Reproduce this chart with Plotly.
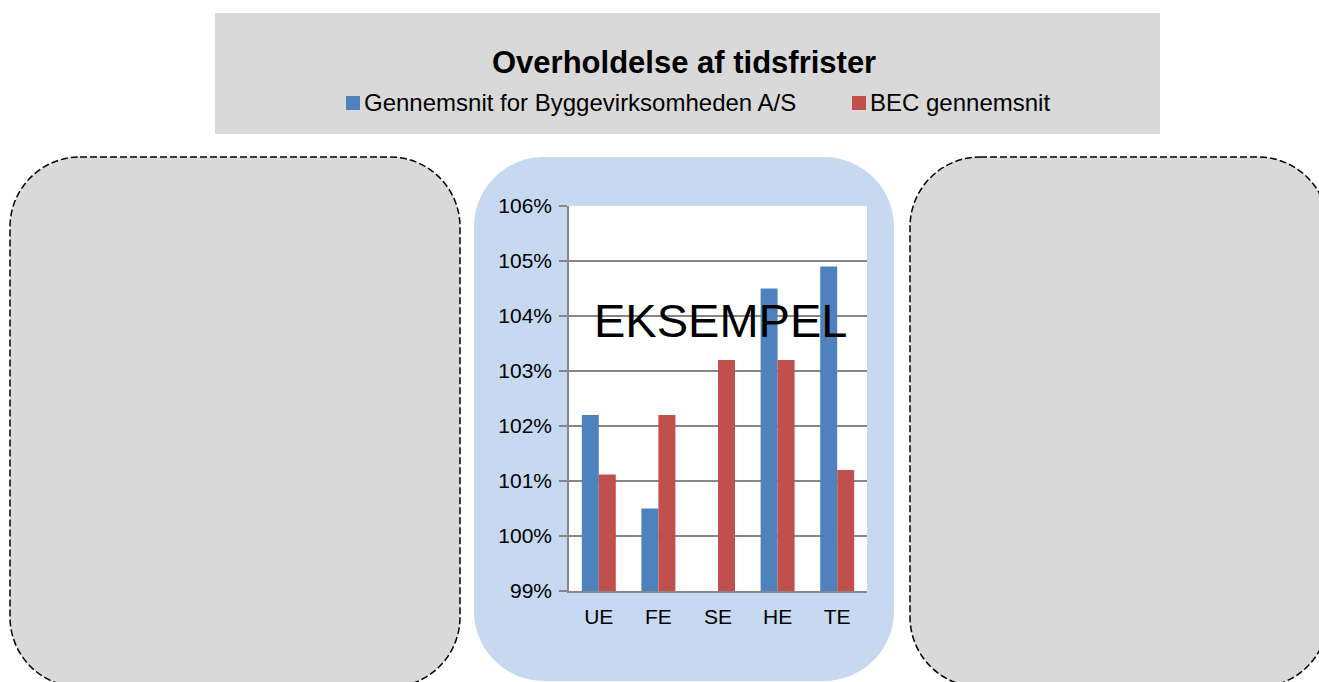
import plotly.graph_objects as go

# ---------------- data ----------------
categories = ["UE", "FE", "SE", "HE", "TE"]
series_names = ["Gennemsnit for Byggevirksomheden A/S", "BEC gennemsnit"]
byg_values = [102.2, 100.5, None, 104.5, 104.9]
bec_values = [101.12, 102.2, 103.2, 103.2, 101.2]
y_ticks = [99, 100, 101, 102, 103, 104, 105, 106]
y_tick_labels = ["99%", "100%", "101%", "102%", "103%", "104%", "105%", "106%"]
title_text = "Overholdelse af tidsfrister"
watermark_text = "EKSEMPEL"

# ---------------- style ----------------
W, H = 1319, 682
BLUE = "#4F81BD"
RED = "#C0504D"
GRID = "#878787"
GREY_BOX = "#D9D9D9"
LIGHT_BLUE = "#C6D9F0"
FONT = "Arial, Liberation Sans, sans-serif"


def px(x):
    return x / W


def py(y):
    return 1 - y / H


def rounded_path(x0, y0, x1, y1, r):
    k = 0.5523 * r

    def p(x, y):
        return f"{px(x):.5f},{py(y):.5f}"

    return (
        f"M{p(x0 + r, y0)} L{p(x1 - r, y0)} "
        f"C{p(x1 - r + k, y0)} {p(x1, y0 + r - k)} {p(x1, y0 + r)} "
        f"L{p(x1, y1 - r)} "
        f"C{p(x1, y1 - r + k)} {p(x1 - r + k, y1)} {p(x1 - r, y1)} "
        f"L{p(x0 + r, y1)} "
        f"C{p(x0 + r - k, y1)} {p(x0, y1 - r + k)} {p(x0, y1 - r)} "
        f"L{p(x0, y0 + r)} "
        f"C{p(x0, y0 + r - k)} {p(x0 + r - k, y0)} {p(x0 + r, y0)} Z"
    )


fig = go.Figure()
fig.add_trace(go.Bar(x=categories, y=byg_values, name=series_names[0],
                     marker=dict(color=BLUE, line=dict(width=0))))
fig.add_trace(go.Bar(x=categories, y=bec_values, name=series_names[1],
                     marker=dict(color=RED, line=dict(width=0))))

shapes = [
    # title / legend panel
    dict(type="rect", xref="paper", yref="paper", x0=px(215), x1=px(1160),
         y0=py(134), y1=py(13), fillcolor=GREY_BOX, line=dict(width=0), layer="below"),
    # left dashed panel
    dict(type="path", xref="paper", yref="paper", path=rounded_path(10, 157, 460, 687, 70),
         fillcolor=GREY_BOX, line=dict(color="black", width=1.5, dash="7px,3px"), layer="below"),
    # right dashed panel
    dict(type="path", xref="paper", yref="paper", path=rounded_path(910, 157, 1328, 687, 70),
         fillcolor=GREY_BOX, line=dict(color="black", width=1.5, dash="7px,3px"), layer="below"),
    # light-blue chart panel
    dict(type="path", xref="paper", yref="paper", path=rounded_path(474, 157, 894, 681, 70),
         fillcolor=LIGHT_BLUE, line=dict(width=0), layer="below"),
    # white plot area
    dict(type="rect", xref="x domain", yref="y domain", x0=0, x1=1, y0=0, y1=1,
         fillcolor="white", line=dict(width=0), layer="below"),
    # legend swatches
    dict(type="rect", xref="paper", yref="paper", x0=px(346), x1=px(360),
         y0=py(110), y1=py(96), fillcolor=BLUE, line=dict(width=0)),
    dict(type="rect", xref="paper", yref="paper", x0=px(852), x1=px(866),
         y0=py(110), y1=py(96), fillcolor=RED, line=dict(width=0)),
]

annotations = [
    dict(text=f"<b>{title_text}</b>", xref="paper", yref="paper", x=px(684), y=py(62),
         xanchor="center", yanchor="middle", showarrow=False,
         font=dict(family=FONT, size=31, color="black")),
    dict(text=series_names[0], xref="paper", yref="paper", x=px(362), y=py(103),
         xanchor="left", yanchor="middle", showarrow=False,
         font=dict(family=FONT, size=24, color="black")),
    dict(text=series_names[1], xref="paper", yref="paper", x=px(868), y=py(103),
         xanchor="left", yanchor="middle", showarrow=False,
         font=dict(family=FONT, size=24, color="black")),
    dict(text=watermark_text, xref="paper", yref="paper", x=px(720), y=py(320),
         xanchor="center", yanchor="middle", showarrow=False,
         font=dict(family=FONT, size=47, color="black")),
]

fig.update_layout(
    width=W, height=H,
    margin=dict(l=0, r=0, t=0, b=0, pad=0, autoexpand=False),
    paper_bgcolor="white",
    plot_bgcolor="white",
    showlegend=False,
    barmode="group",
    bargap=0.43,
    bargroupgap=0,
    font=dict(family=FONT, color="black"),
    shapes=shapes,
    annotations=annotations,
    xaxis=dict(
        domain=[px(569), px(867)],
        automargin=False,
        showgrid=False, showline=True, linecolor=GRID, linewidth=1.5,
        ticks="", ticklabelstandoff=6,
        tickfont=dict(family=FONT, size=21, color="black"),
        fixedrange=True,
    ),
    yaxis=dict(
        domain=[py(591), py(206)],
        automargin=False,
        range=[99, 106],
        tickmode="array", tickvals=y_ticks, ticktext=y_tick_labels,
        showgrid=True, gridcolor=GRID, gridwidth=1.5,
        showline=True, linecolor=GRID, linewidth=1.5,
        ticks="outside", ticklen=8, tickwidth=1.5, tickcolor=GRID,
        ticklabelstandoff=3,
        zeroline=False,
        tickfont=dict(family=FONT, size=21, color="black"),
        fixedrange=True,
    ),
)

fig.write_html(
    "out.html",
    config={"displayModeBar": False},
    post_script="document.body.style.margin='0';document.body.style.overflow='hidden';",
)
